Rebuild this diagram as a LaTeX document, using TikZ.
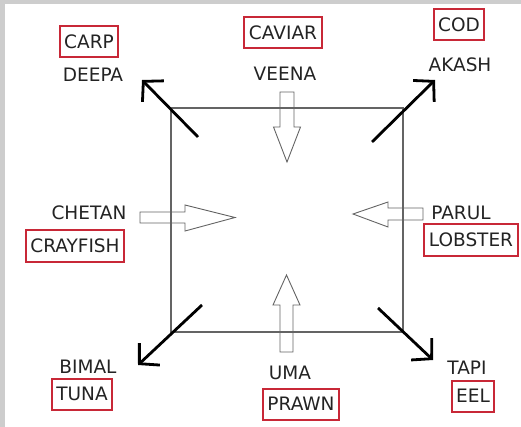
\documentclass[tikz,border=0pt]{standalone}
\usepackage{fontspec}
\setmainfont{DejaVu Sans}
\usetikzlibrary{arrows.meta}
\definecolor{boxred}{RGB}{200,40,55}
\definecolor{txtgray}{RGB}{35,35,35}
\definecolor{edgegray}{RGB}{100,100,100}
\definecolor{framegray}{RGB}{205,205,205}

\begin{document}
\begin{tikzpicture}[x=1pt,y=-1pt]
		\tikzstyle{every node}+=[inner sep=0pt, text=txtgray, font=\fontsize{18.5}{20}\selectfont]
		\tikzstyle{fish}=[draw=boxred, line width=2pt, inner xsep=4.5pt, minimum height=31pt]
		\tikzstyle{hollow}=[draw=edgegray, line width=0.9pt, line join=miter]
		\tikzstyle{bigarrow}=[line width=2.8pt, -{Straight Barb[length=14pt,width=30pt]}]
		\useasboundingbox (0,0) rectangle (521,427);
		\fill [framegray] (0,0) rectangle (521,4);
		\fill [framegray] (0,0) rectangle (5,427);
		\draw [edgegray, line width=1.2pt] (171,108) rectangle (403,332);
		\draw [hollow] (280,92) -- (294,92) -- (294,127) -- (300.5,127) -- (287,162) -- (273.5,127) -- (280,127) -- cycle;
		\draw [hollow] (280,352) -- (293,352) -- (293,305) -- (300,305) -- (286.5,275) -- (273,305) -- (280,305) -- cycle;
		\draw [hollow] (140,212) -- (185,212) -- (185,205) -- (235,217.5) -- (185,231) -- (185,223) -- (140,223) -- cycle;
		\draw [hollow] (423,208) -- (388,208) -- (388,202) -- (353,214) -- (388,227) -- (388,220) -- (423,220) -- cycle;
		\node [fish] (carp) at (89,42) {CARP};
		\node (deepa) at (93,75) {DEEPA};
		\node [fish] (caviar) at (283,33) {CAVIAR};
		\node (veena) at (285,74) {VEENA};
		\node [fish] (cod) at (459,25) {COD};
		\node (akash) at (460,65) {AKASH};
		\node (chetan) at (89,213) {CHETAN};
		\node [fish] (crayfish) at (75,246) {CRAYFISH};
		\node (parul) at (461,213) {PARUL};
		\node [fish] (lobster) at (471,240) {LOBSTER};
		\node (bimal) at (88,367) {BIMAL};
		\node [fish] (tuna) at (82,394) {TUNA};
		\node (uma) at (290,373) {UMA};
		\node [fish] (prawn) at (301,404) {PRAWN};
		\node (tapi) at (467,368) {TAPI};
		\node [fish] (eel) at (473,396) {EEL};
		\coordinate (tl) at (198,137);
		\coordinate (tlTip) at (142,80);
		\coordinate (tr) at (372,142);
		\coordinate (trTip) at (435,80);
		\coordinate (bl) at (202,305);
		\coordinate (blTip) at (138,365);
		\coordinate (br) at (378,308);
		\coordinate (brTip) at (433,360);
		\draw [bigarrow] (tl) -- (tlTip);
		\draw [bigarrow] (tr) -- (trTip);
		\draw [bigarrow] (bl) -- (blTip);
		\draw [bigarrow] (br) -- (brTip);
\end{tikzpicture}
\end{document}
